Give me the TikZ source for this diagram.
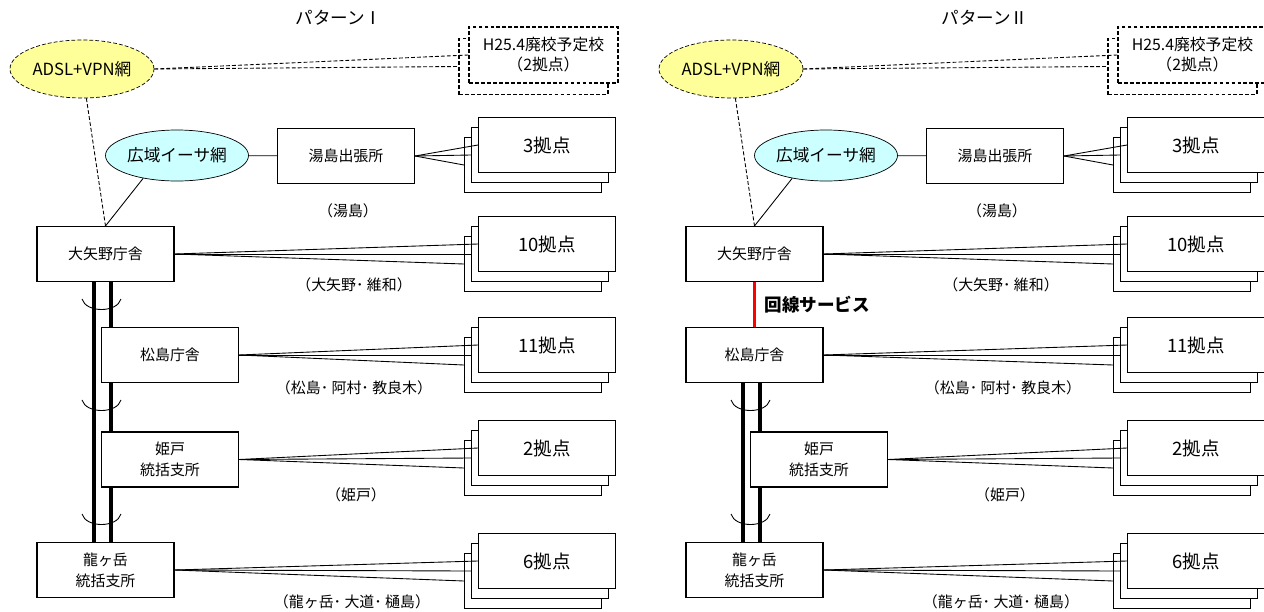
\documentclass[tikz,border=0pt]{standalone}
\usepackage{fontspec}
\setmainfont{Noto Sans CJK JP}
\usetikzlibrary{shapes.geometric}
\usetikzlibrary{backgrounds}
\definecolor{adslfill}{HTML}{FFFF99}
\definecolor{etherfill}{HTML}{CCFFFF}
\tikzset{
    every node/.style={font=\fontsize{8.5}{12}\selectfont},
    office/.style={
        draw, fill=white, line width=0.6pt,
        minimum width=2.74cm, minimum height=1.1cm,
        align=center},
    site/.style={
        office,
        font=\fontsize{10.5}{12}\selectfont},
    dashline/.style={dash pattern=on 2.2pt off 1.2pt},
    closing/.style={
        office, dashline,
        minimum width=2.98cm, minimum height=1.12cm,
        font=\fontsize{9}{11.5}\selectfont},
    adsl/.style={
        ellipse, draw, dashline, fill=adslfill,
        minimum width=2.88cm, minimum height=1.16cm, inner sep=0pt,
        font=\fontsize{9.5}{11}\selectfont},
    ether/.style={
        ellipse, draw, fill=etherfill,
        minimum width=2.86cm, minimum height=1.02cm, inner sep=0pt,
        font=\fontsize{9.5}{11}\selectfont},
    trunk/.style={line width=1.8pt},
    bundle/.style={line width=0.5pt},
    service/.style={draw=red, line width=2pt},
    every edge/.style={
        draw,
        line width=0.5pt}}

\begin{document}
\begin{tikzpicture}[x=0.2mm,y=-0.2mm]
    \useasboundingbox (0,0) rectangle (1264,611);

    % パターンI
    \node[font=\fontsize{10}{12}\selectfont] (titleI) at (339,18) {パターンⅠ};
    \node[adsl] (adslI) at (82,69) {ADSL+VPN網};
    \node[closing] (h25bI) at (533.5,66.5) {};
    \node[closing] (h25aI) at (543.5,55) {H25.4廃校予定校\\（2拠点）};
    \node[ether] (etherI) at (177,155.5) {広域イーサ網};
    \node[office] (yushimaI) at (346,156) {湯島出張所};
    \node[site] (k3cI) at (533,165) {};
    \node[site] (k3bI) at (540,155) {};
    \node[site] (k3aI) at (547,145) {3拠点};
    \node (yushimaLI) at (348,211) {（湯島）};
    \node[office] (oyanoI) at (105.5,254) {大矢野庁舎};
    \node[site] (k10cI) at (533,264) {};
    \node[site] (k10bI) at (540,254) {};
    \node[site] (k10aI) at (547,244) {10拠点};
    \node (oyanoLI) at (354,285) {（大矢野･ 維和）};
    \node[office] (matsuI) at (170,355) {松島庁舎};
    \node[site] (k11cI) at (533,365) {};
    \node[site] (k11bI) at (540,355) {};
    \node[site] (k11aI) at (547,345) {11拠点};
    \node (matsuLI) at (354,388) {（松島･ 阿村･ 教良木）};
    \node[office] (himedoI) at (170,459.5) {姫戸\\統括支所};
    \node[site] (k2cI) at (533,468) {};
    \node[site] (k2bI) at (540,458) {};
    \node[site] (k2aI) at (547,448) {2拠点};
    \node (himedoLI) at (356,495) {（姫戸）};
    \node[office] (ryuI) at (105.5,570) {龍ヶ岳\\統括支所};
    \node[site] (k6cI) at (533,581) {};
    \node[site] (k6bI) at (540,571) {};
    \node[site] (k6aI) at (547,561) {6拠点};
    \node (ryuLI) at (352,602) {（龍ヶ岳･ 大道･ 樋島）};

    \begin{scope}[on background layer]
        \draw[trunk] ([xshift=-0.23cm]oyanoI.south) -- ([xshift=-0.23cm]ryuI.north);
        \draw[trunk] ([xshift=0.11cm]oyanoI.south) -- ([xshift=0.11cm]ryuI.north);
    \end{scope}
    \draw[bundle] (82,299) .. controls (86,313) and (117,313) .. (121,299);
    \draw[bundle] (82,400) .. controls (86,414) and (117,414) .. (121,400);
    \draw[bundle] (82,514) .. controls (86,528) and (117,528) .. (121,514);

    \draw (adslI.east) edge[dashline] (h25aI.west) edge[dashline] (h25bI.west);
    \draw (adslI) edge[dashline] (oyanoI.north);
    \draw (etherI.214) edge (oyanoI.north);
    \draw (etherI) edge (yushimaI);
    \draw (yushimaI.east) edge (k3aI.west) edge (k3bI.west) edge (k3cI.west);
    \draw (oyanoI.east) edge (k10aI.west) edge (k10bI.west) edge (k10cI.west);
    \draw (matsuI.east) edge (k11aI.west) edge (k11bI.west) edge (k11cI.west);
    \draw (himedoI.east) edge (k2aI.west) edge (k2bI.west) edge (k2cI.west);
    \draw (ryuI.east) edge (k6aI.west) edge (k6bI.west) edge (k6cI.west);

    % パターンII
    \node[font=\fontsize{10}{12}\selectfont] (titleII) at (985,18) {パターンⅡ};
    \node[adsl] (adslII) at (731,69) {ADSL+VPN網};
    \node[closing] (h25bII) at (1182.5,66.5) {};
    \node[closing] (h25aII) at (1192.5,55) {H25.4廃校予定校\\（2拠点）};
    \node[ether] (etherII) at (826,155.5) {広域イーサ網};
    \node[office] (yushimaII) at (995,156) {湯島出張所};
    \node[site] (k3cII) at (1182,165) {};
    \node[site] (k3bII) at (1189,155) {};
    \node[site] (k3aII) at (1196,145) {3拠点};
    \node (yushimaLII) at (997,211) {（湯島）};
    \node[office] (oyanoII) at (754.5,254) {大矢野庁舎};
    \node[site] (k10cII) at (1182,264) {};
    \node[site] (k10bII) at (1189,254) {};
    \node[site] (k10aII) at (1196,244) {10拠点};
    \node (oyanoLII) at (1001,285) {（大矢野･ 維和）};
    \node[office] (matsuII) at (754.5,355) {松島庁舎};
    \node[site] (k11cII) at (1182,365) {};
    \node[site] (k11bII) at (1189,355) {};
    \node[site] (k11aII) at (1196,345) {11拠点};
    \node (matsuLII) at (1003,388) {（松島･ 阿村･ 教良木）};
    \node[office] (himedoII) at (819,459.5) {姫戸\\統括支所};
    \node[site] (k2cII) at (1182,468) {};
    \node[site] (k2bII) at (1189,458) {};
    \node[site] (k2aII) at (1196,448) {2拠点};
    \node (himedoLII) at (1005,495) {（姫戸）};
    \node[office] (ryuII) at (754.5,570) {龍ヶ岳\\統括支所};
    \node[site] (k6cII) at (1182,581) {};
    \node[site] (k6bII) at (1189,571) {};
    \node[site] (k6aII) at (1196,561) {6拠点};
    \node (ryuLII) at (1001,602) {（龍ヶ岳･ 大道･ 樋島）};

    \begin{scope}[on background layer]
        \draw[trunk] ([xshift=-0.23cm]matsuII.south) -- ([xshift=-0.23cm]ryuII.north);
        \draw[trunk] ([xshift=0.11cm]matsuII.south) -- ([xshift=0.11cm]ryuII.north);
    \end{scope}
    \draw[bundle] (731,400) .. controls (735,414) and (766,414) .. (770,400);
    \draw[bundle] (731,514) .. controls (735,528) and (766,528) .. (770,514);

    \draw[service] (oyanoII) -- node[right=0.05cm, font=\bfseries\fontsize{10}{12}\selectfont] {回線サービス} (matsuII);

    \draw (adslII.east) edge[dashline] (h25aII.west) edge[dashline] (h25bII.west);
    \draw (adslII) edge[dashline] (oyanoII.north);
    \draw (etherII.214) edge (oyanoII.north);
    \draw (etherII) edge (yushimaII);
    \draw (yushimaII.east) edge (k3aII.west) edge (k3bII.west) edge (k3cII.west);
    \draw (oyanoII.east) edge (k10aII.west) edge (k10bII.west) edge (k10cII.west);
    \draw (matsuII.east) edge (k11aII.west) edge (k11bII.west) edge (k11cII.west);
    \draw (himedoII.east) edge (k2aII.west) edge (k2bII.west) edge (k2cII.west);
    \draw (ryuII.east) edge (k6aII.west) edge (k6bII.west) edge (k6cII.west);
\end{tikzpicture}
\end{document}
